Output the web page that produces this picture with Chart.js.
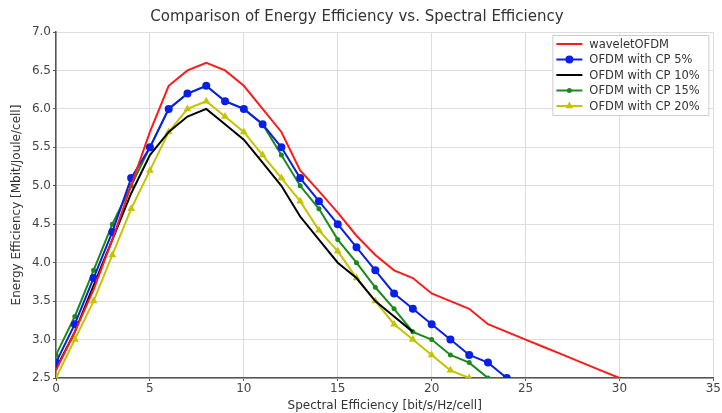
<!DOCTYPE html>
<html>
<head>
<meta charset="utf-8">
<script src="https://cdn.jsdelivr.net/npm/chart.js@4/dist/chart.umd.min.js"></script>
<style>
  html, body { margin: 0; padding: 0; background: #fff; }
  #wrap { width: 722px; height: 413px; position: relative; }
</style>
</head>
<body>
<div id="wrap"><canvas id="chart"></canvas></div>
<script>
// Spectral efficiency sample points (bit/s/Hz/cell)
const spectralEff = [0, 1, 2, 3, 4, 5, 6, 7, 8, 9, 10, 11, 12, 13, 14, 15, 16, 17, 18, 19, 20,
  21, 22, 23, 24, 25, 26, 27, 28, 29, 30];

// Energy efficiency per scheme (Mbit/Joule/cell)
const waveletOFDM = [2.6, 3.1, 3.65, 4.3, 5.0, 5.7, 6.3, 6.5, 6.6, 6.5, 6.3, 6.0, 5.7, 5.2, 4.93,
  4.65, 4.35, 4.1, 3.9, 3.8, 3.6, 3.5, 3.4, 3.2, 3.1, 3.0, 2.9, 2.8, 2.7, 2.6, 2.5];
const cp5 = [2.7, 3.2, 3.8, 4.4, 5.1, 5.5, 6.0, 6.2, 6.3, 6.1, 6.0, 5.8, 5.5, 5.1, 4.8, 4.5, 4.2,
  3.9, 3.6, 3.4, 3.2, 3.0, 2.8, 2.7, 2.5];
const cp10 = [2.62, 3.1, 3.7, 4.3, 4.9, 5.4, 5.7, 5.9, 6.0, 5.8, 5.6, 5.3, 5.0, 4.6, 4.3, 4.0,
  3.8, 3.5, 3.3, 3.1];
const cp15 = [2.8, 3.3, 3.9, 4.5, 5.0, 5.5, 6.0, 6.2, 6.3, 6.1, 6.0, 5.8, 5.4, 5.0, 4.7, 4.3, 4.0,
  3.68, 3.4, 3.1, 3.0, 2.8, 2.7, 2.5];
const cp20 = [2.5, 3.0, 3.5, 4.1, 4.7, 5.2, 5.7, 6.0, 6.1, 5.9, 5.7, 5.4, 5.1, 4.8, 4.42, 4.15,
  3.8, 3.5, 3.2, 3.0, 2.8, 2.6, 2.5];

const seriesNames = ['waveletOFDM', 'OFDM with CP 5%', 'OFDM with CP 10%', 'OFDM with CP 15%', 'OFDM with CP 20%'];

// Axis ranges / ticks
const xTicks = [0, 5, 10, 15, 20, 25, 30, 35];
const yTicks = [2.5, 3.0, 3.5, 4.0, 4.5, 5.0, 5.5, 6.0, 6.5, 7.0];

const FONT = "'DejaVu Sans', sans-serif";

function toPoints(values) {
  return values.map((v, i) => ({ x: spectralEff[i], y: v }));
}

function makeSet(label, values, color, pointStyle, radius) {
  return {
    label: label,
    data: toPoints(values),
    borderColor: color,
    backgroundColor: color,
    borderWidth: 2,
    pointStyle: pointStyle || 'circle',
    pointRadius: radius || 0,
    pointHoverRadius: radius || 0,
    tension: 0,
    fill: false
  };
}

// Legend box drawn inside the plot, upper right
const innerLegend = {
  id: 'innerLegend',
  afterDraw(chart) {
    const ctx = chart.ctx;
    const area = chart.chartArea;
    const w = 156, h = 80;
    const x0 = area.right - w - 5, y0 = area.top + 3;
    ctx.save();
    ctx.fillStyle = 'rgba(255,255,255,0.9)';
    ctx.strokeStyle = '#cccccc';
    ctx.lineWidth = 1;
    ctx.beginPath();
    ctx.rect(x0 + 0.5, y0 + 0.5, w, h);
    ctx.fill();
    ctx.stroke();
    ctx.font = '11.5px ' + FONT;
    ctx.textBaseline = 'middle';
    chart.data.datasets.forEach((ds, i) => {
      const yy = y0 + 9 + i * 15.5;
      ctx.strokeStyle = ds.borderColor;
      ctx.lineWidth = 2;
      ctx.beginPath();
      ctx.moveTo(x0 + 4, yy);
      ctx.lineTo(x0 + 30, yy);
      ctx.stroke();
      if (ds.pointRadius > 0) {
        ctx.fillStyle = ds.borderColor;
        Chart.helpers.drawPoint(ctx, { pointStyle: ds.pointStyle, radius: ds.pointRadius, borderWidth: 1 }, x0 + 17, yy);
        ctx.fill();
      }
      ctx.fillStyle = '#333333';
      ctx.fillText(ds.label, x0 + 37, yy + 1);
    });
    ctx.restore();
  }
};

new Chart(document.getElementById('chart'), {
  type: 'line',
  data: {
    datasets: [
      makeSet(seriesNames[0], waveletOFDM, '#ff1a1a'),
      makeSet(seriesNames[1], cp5, '#0a1fe8', 'circle', 3),
      makeSet(seriesNames[2], cp10, '#000000'),
      makeSet(seriesNames[3], cp15, '#1a8a1a', 'circle', 1.5),
      makeSet(seriesNames[4], cp20, '#c4c400', 'triangle', 2.5)
    ]
  },
  options: {
    responsive: true,
    maintainAspectRatio: false,
    animation: false,
    layout: { padding: { top: 3, right: 8, left: 0, bottom: 0 } },
    plugins: {
      legend: { display: false },
      tooltip: { enabled: false },
      title: {
        display: true,
        text: 'Comparison of Energy Efficiency vs. Spectral Efficiency',
        color: '#333333',
        font: { family: FONT, size: 15, weight: 'normal' },
        padding: { top: 5, bottom: 6 }
      }
    },
    scales: {
      x: {
        type: 'linear',
        min: 0,
        max: 35,
        afterBuildTicks: axis => { axis.ticks = xTicks.map(v => ({ value: v })); },
        afterFit: axis => { axis.height = 35; },
        border: { display: true, color: '#555555', width: 1.5 },
        grid: { color: '#dddddd', borderDash: [2, 2], tickLength: 3, tickColor: '#555555' },
        ticks: { color: '#444444', font: { family: FONT, size: 12 }, padding: 1, maxRotation: 0 },
        title: {
          display: true,
          text: 'Spectral Efficiency [bit/s/Hz/cell]',
          color: '#333333',
          font: { family: FONT, size: 12 },
          padding: { top: 0, bottom: 0 }
        }
      },
      y: {
        min: 2.5,
        max: 7.0,
        afterBuildTicks: axis => { axis.ticks = yTicks.map(v => ({ value: v })); },
        afterFit: axis => { axis.width = 56; },
        border: { display: true, color: '#555555', width: 1.5 },
        grid: { color: '#dddddd', borderDash: [2, 2], tickLength: 3, tickColor: '#555555' },
        ticks: {
          color: '#444444',
          font: { family: FONT, size: 12 },
          padding: 2,
          callback: v => v.toFixed(1)
        },
        title: {
          display: true,
          text: 'Energy Efficiency [Mbit/Joule/cell]',
          color: '#333333',
          font: { family: FONT, size: 12 },
          padding: { top: 10, bottom: 2 }
        }
      }
    }
  },
  plugins: [innerLegend]
});
</script>
</body>
</html>
